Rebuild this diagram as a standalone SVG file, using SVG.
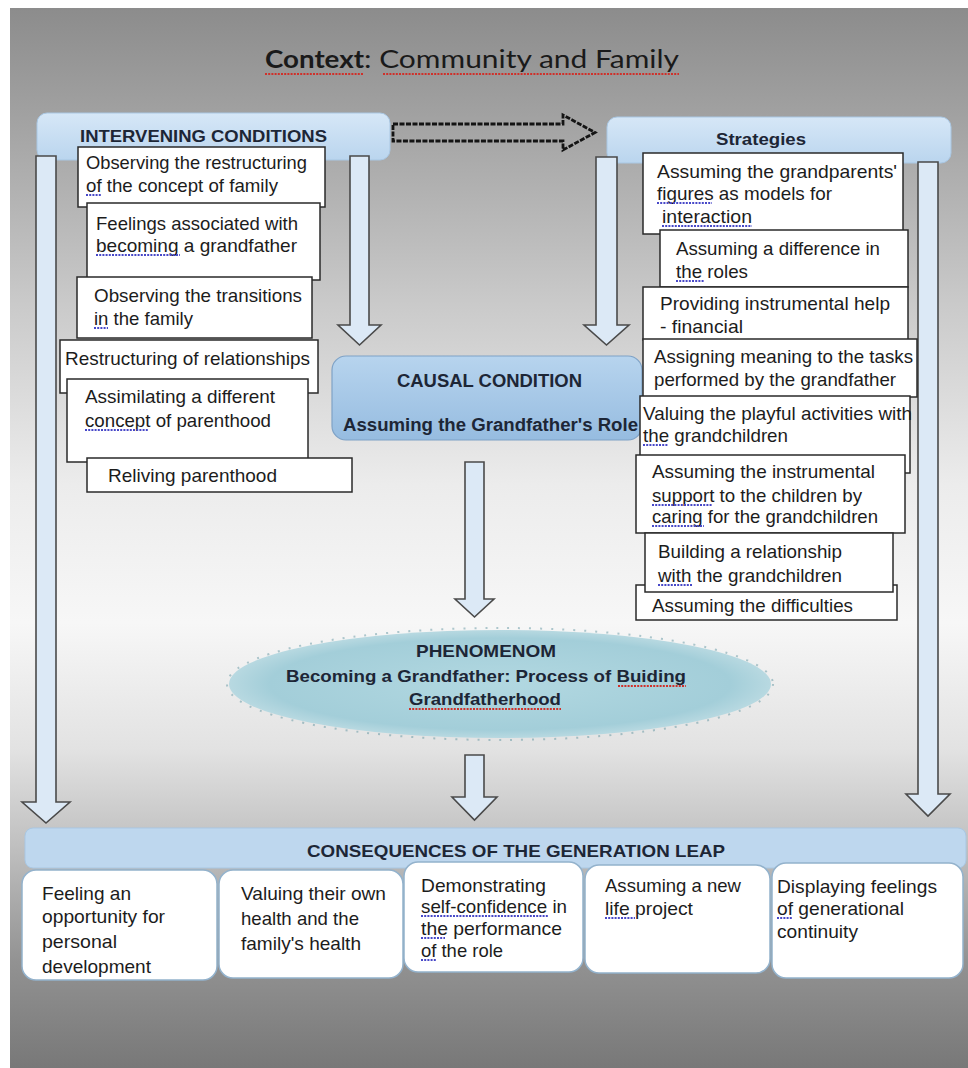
<svg xmlns="http://www.w3.org/2000/svg" width="968" height="1068" viewBox="0 0 968 1068">
<defs>
  <linearGradient id="bg" x1="0" y1="0" x2="0" y2="1">
    <stop offset="0" stop-color="#8c8c8c"/>
    <stop offset="0.1" stop-color="#a1a1a1"/>
    <stop offset="0.28" stop-color="#cacaca"/>
    <stop offset="0.45" stop-color="#ececec"/>
    <stop offset="0.58" stop-color="#f7f7f7"/>
    <stop offset="0.7" stop-color="#e2e2e2"/>
    <stop offset="0.8" stop-color="#bcbcbc"/>
    <stop offset="0.9" stop-color="#929292"/>
    <stop offset="1" stop-color="#787878"/>
  </linearGradient>
  <linearGradient id="hdr" x1="0" y1="0" x2="0" y2="1">
    <stop offset="0" stop-color="#d6e7f7"/>
    <stop offset="1" stop-color="#bad5ee"/>
  </linearGradient>
  <linearGradient id="causal" x1="0" y1="0" x2="0" y2="1">
    <stop offset="0" stop-color="#b7d4ee"/>
    <stop offset="1" stop-color="#96bce0"/>
  </linearGradient>
  <radialGradient id="phen" cx="0.5" cy="0.5" r="0.5">
    <stop offset="0" stop-color="#b2d8e1"/>
    <stop offset="0.85" stop-color="#a3ced9"/>
    <stop offset="1" stop-color="#b8d9e1"/>
  </radialGradient>
  <style>
    .t { font-family: "Liberation Sans", Arial, sans-serif; font-size: 19px; fill: #1c1c1c; }
    .hb { font-family: "Liberation Sans", Arial, sans-serif; font-weight: bold; fill: #1d2636; }
    .box { fill: #ffffff; stroke: #2a2a2a; stroke-width: 1.5; }
    .cbox { fill: #ffffff; stroke: #93b2cc; stroke-width: 1.5; }
    .hdr { fill: url(#hdr); stroke: #a9c7e3; stroke-width: 1; }
    .arr { fill: #dce9f6; stroke: #4a4a4a; stroke-width: 1.6; stroke-linejoin: miter; }
    .darr { fill: none; stroke: #141414; stroke-width: 2.8; stroke-dasharray: 5 1.5; }
    .sqb { stroke: #4848c8; stroke-width: 1.8; stroke-dasharray: 2 1.2; }
    .sqr { stroke: #d0302a; stroke-width: 1.8; stroke-dasharray: 2 1.2; }
  </style>
</defs>

<rect x="0" y="0" width="968" height="1068" fill="#ffffff"/>
<rect x="10" y="8" width="958" height="1060" fill="url(#bg)"/>

<g id="title">
  <text x="265" y="68" style="font-family: Lato, 'Open Sans', sans-serif; font-size: 25px; font-weight: bold; fill: #1a1a1a;" textLength="99" lengthAdjust="spacingAndGlyphs">Context</text>
  <text x="364" y="68" style="font-family: Lato, 'Open Sans', sans-serif; font-size: 25px; fill: #1a1a1a;" textLength="315" lengthAdjust="spacingAndGlyphs">: Community and Family</text>
  <line class="sqr" x1="265" y1="74" x2="364" y2="74"/>
  <line class="sqr" x1="383" y1="74" x2="679" y2="74"/>
</g>

<g id="intervening-header">
  <rect class="hdr" x="37" y="113" width="353" height="47" rx="10"/>
  <text class="hb" x="80" y="142" font-size="16.5" textLength="247" lengthAdjust="spacingAndGlyphs">INTERVENING CONDITIONS</text>
</g>

<g id="strategies-header">
  <rect class="hdr" x="607" y="117" width="344" height="46" rx="10"/>
  <text class="hb" x="716" y="145" font-size="17" textLength="90" lengthAdjust="spacingAndGlyphs">Strategies</text>
</g>

<g id="consequences-header">
  <rect class="hdr" x="25" y="828" width="941" height="40" rx="8" style="fill:#bed7ee"/>
  <text class="hb" x="307" y="857" font-size="16.5" textLength="418" lengthAdjust="spacingAndGlyphs">CONSEQUENCES OF THE GENERATION LEAP</text>
</g>

<g id="connectors">
  <path class="darr" d="M393,124 H563 V115 L595,132.5 L563,150 V141 H393 Z"/>
  <path class="arr" d="M36,156 H56 V802 H70 L46,823 L22,802 H36 Z"/>
  <path class="arr" d="M918,162 H938 V794 H950 L928,816 L906,794 H918 Z"/>
  <path class="arr" d="M350,156 H369 V325 H381 L359.5,345 L338,325 H350 Z"/>
  <path class="arr" d="M596,157 H617 V325 H629 L606.5,345 L584,325 H596 Z"/>
  <path class="arr" d="M465,462 H484 V599 H494 L474.5,617 L455,599 H465 Z"/>
  <path class="arr" d="M465,755 H484 V797 H497 L474.5,820 L452,797 H465 Z"/>
</g>

<g id="causal-condition">
  <rect x="332" y="356" width="310" height="84" rx="14" fill="url(#causal)" stroke="#7fa2c6" stroke-width="1.2"/>
  <text class="hb" x="397" y="387" font-size="18" textLength="185" lengthAdjust="spacingAndGlyphs">CAUSAL CONDITION</text>
  <text class="hb" x="343" y="431" font-size="18" textLength="295" lengthAdjust="spacingAndGlyphs">Assuming the Grandfather's Role</text>
</g>

<g id="phenomenon">
  <ellipse cx="500" cy="684" rx="271" ry="54" fill="url(#phen)"/>
  <ellipse cx="500" cy="684" rx="273" ry="56" fill="none" stroke="#3f7f8e" stroke-width="2" stroke-dasharray="2 9" opacity="0.4"/>
  <text class="hb" x="416" y="657" font-size="17" textLength="140" lengthAdjust="spacingAndGlyphs">PHENOMENOM</text>
  <text class="hb" x="286" y="682" font-size="17" textLength="400" lengthAdjust="spacingAndGlyphs">Becoming a Grandfather: Process of Buiding</text>
  <text class="hb" x="409" y="705" font-size="17" textLength="152" lengthAdjust="spacingAndGlyphs">Grandfatherhood</text>
  <line class="sqr" x1="618" y1="686" x2="686" y2="686"/>
  <line class="sqr" x1="409" y1="709" x2="561" y2="709"/>
</g>

<g id="ic-1">
  <rect class="box" x="78" y="147" width="247" height="60"/>
  <text class="t" x="86" y="169" textLength="221" lengthAdjust="spacingAndGlyphs">Observing the restructuring</text>
  <text class="t" x="86" y="192" textLength="192" lengthAdjust="spacingAndGlyphs">of the concept of family</text>
  <line class="sqb" x1="86" y1="195" x2="102" y2="195"/>
</g>
<g id="ic-2">
  <rect class="box" x="87" y="203" width="233" height="77"/>
  <text class="t" x="96" y="230" textLength="202" lengthAdjust="spacingAndGlyphs">Feelings associated with</text>
  <text class="t" x="96" y="252" textLength="201" lengthAdjust="spacingAndGlyphs">becoming a grandfather</text>
  <line class="sqb" x1="96" y1="255" x2="180" y2="255"/>
</g>
<g id="ic-3">
  <rect class="box" x="77" y="277" width="235" height="61"/>
  <text class="t" x="94" y="302" textLength="208" lengthAdjust="spacingAndGlyphs">Observing the transitions</text>
  <text class="t" x="94" y="325" textLength="99" lengthAdjust="spacingAndGlyphs">in the family</text>
  <line class="sqb" x1="94" y1="328" x2="108" y2="328"/>
</g>
<g id="ic-4">
  <rect class="box" x="60" y="340" width="258" height="53"/>
  <text class="t" x="65" y="365" textLength="245" lengthAdjust="spacingAndGlyphs">Restructuring of relationships</text>
</g>
<g id="ic-5">
  <rect class="box" x="67" y="379" width="241" height="83"/>
  <text class="t" x="85" y="403" textLength="190" lengthAdjust="spacingAndGlyphs">Assimilating a different</text>
  <text class="t" x="85" y="427" textLength="186" lengthAdjust="spacingAndGlyphs">concept of parenthood</text>
  <line class="sqb" x1="85" y1="430" x2="149" y2="430"/>
</g>
<g id="ic-6">
  <rect class="box" x="87" y="458" width="265" height="34"/>
  <text class="t" x="108" y="482" textLength="169" lengthAdjust="spacingAndGlyphs">Reliving parenthood</text>
</g>

<g id="st-1">
  <rect class="box" x="643" y="153" width="260" height="81"/>
  <text class="t" x="657" y="178" textLength="240" lengthAdjust="spacingAndGlyphs">Assuming the grandparents'</text>
  <text class="t" x="657" y="200" textLength="175" lengthAdjust="spacingAndGlyphs">figures as models for</text>
  <text class="t" x="662" y="223" textLength="90" lengthAdjust="spacingAndGlyphs">interaction</text>
  <line class="sqb" x1="657" y1="203" x2="712" y2="203"/>
  <line class="sqb" x1="662" y1="226" x2="752" y2="226"/>
</g>
<g id="st-2">
  <rect class="box" x="660" y="230" width="248" height="57"/>
  <text class="t" x="676" y="255" textLength="204" lengthAdjust="spacingAndGlyphs">Assuming a difference in</text>
  <text class="t" x="676" y="278" textLength="72" lengthAdjust="spacingAndGlyphs">the roles</text>
  <line class="sqb" x1="676" y1="281" x2="704" y2="281"/>
</g>
<g id="st-3">
  <rect class="box" x="643" y="287" width="265" height="53"/>
  <text class="t" x="660" y="310" textLength="230" lengthAdjust="spacingAndGlyphs">Providing instrumental help</text>
  <text class="t" x="660" y="333" textLength="83" lengthAdjust="spacingAndGlyphs">- financial</text>
</g>
<g id="st-4">
  <rect class="box" x="643" y="339" width="274" height="58"/>
  <text class="t" x="654" y="363" textLength="259" lengthAdjust="spacingAndGlyphs">Assigning meaning to the tasks</text>
  <text class="t" x="654" y="386" textLength="242" lengthAdjust="spacingAndGlyphs">performed by the grandfather</text>
</g>
<g id="st-5">
  <rect class="box" x="640" y="396" width="270" height="77"/>
  <text class="t" x="643" y="420" textLength="269" lengthAdjust="spacingAndGlyphs">Valuing the playful activities with</text>
  <text class="t" x="643" y="442" textLength="145" lengthAdjust="spacingAndGlyphs">the grandchildren</text>
  <line class="sqb" x1="643" y1="445" x2="668" y2="445"/>
</g>
<g id="st-6">
  <rect class="box" x="636" y="455" width="269" height="78"/>
  <text class="t" x="652" y="478" textLength="223" lengthAdjust="spacingAndGlyphs">Assuming the instrumental</text>
  <text class="t" x="652" y="502" textLength="210" lengthAdjust="spacingAndGlyphs">support to the children by</text>
  <text class="t" x="652" y="523" textLength="226" lengthAdjust="spacingAndGlyphs">caring for the grandchildren</text>
  <line class="sqb" x1="652" y1="505" x2="712" y2="505"/>
  <line class="sqb" x1="652" y1="526" x2="704" y2="526"/>
</g>
<g id="st-8">
  <rect class="box" x="636" y="585" width="261" height="35"/>
  <text class="t" x="652" y="612" textLength="201" lengthAdjust="spacingAndGlyphs">Assuming the difficulties</text>
</g>
<g id="st-7">
  <rect class="box" x="645" y="533" width="248" height="59"/>
  <text class="t" x="658" y="558" textLength="184" lengthAdjust="spacingAndGlyphs">Building a relationship</text>
  <text class="t" x="658" y="582" textLength="184" lengthAdjust="spacingAndGlyphs">with the grandchildren</text>
  <line class="sqb" x1="658" y1="585" x2="692" y2="585"/>
</g>

<g id="cq-1">
  <rect class="cbox" x="22" y="870" width="195" height="110" rx="14"/>
  <text class="t" x="42" y="900" textLength="89" lengthAdjust="spacingAndGlyphs">Feeling an</text>
  <text class="t" x="42" y="923" textLength="123" lengthAdjust="spacingAndGlyphs">opportunity for</text>
  <text class="t" x="42" y="948" textLength="75" lengthAdjust="spacingAndGlyphs">personal</text>
  <text class="t" x="42" y="973" textLength="109" lengthAdjust="spacingAndGlyphs">development</text>
</g>
<g id="cq-2">
  <rect class="cbox" x="219" y="870" width="184" height="108" rx="14"/>
  <text class="t" x="241" y="900" textLength="145" lengthAdjust="spacingAndGlyphs">Valuing their own</text>
  <text class="t" x="241" y="925" textLength="118" lengthAdjust="spacingAndGlyphs">health and the</text>
  <text class="t" x="241" y="950" textLength="120" lengthAdjust="spacingAndGlyphs">family's health</text>
</g>
<g id="cq-3">
  <rect class="cbox" x="404" y="862" width="179" height="110" rx="14"/>
  <text class="t" x="421" y="892" textLength="125" lengthAdjust="spacingAndGlyphs">Demonstrating</text>
  <text class="t" x="421" y="913" textLength="146" lengthAdjust="spacingAndGlyphs">self-confidence in</text>
  <text class="t" x="421" y="935" textLength="141" lengthAdjust="spacingAndGlyphs">the performance</text>
  <text class="t" x="421" y="957" textLength="82" lengthAdjust="spacingAndGlyphs">of the role</text>
  <line class="sqb" x1="421" y1="916" x2="548" y2="916"/>
  <line class="sqb" x1="421" y1="938" x2="445" y2="938"/>
  <line class="sqb" x1="421" y1="960" x2="437" y2="960"/>
</g>
<g id="cq-4">
  <rect class="cbox" x="585" y="865" width="185" height="108" rx="14"/>
  <text class="t" x="605" y="892" textLength="136" lengthAdjust="spacingAndGlyphs">Assuming a new</text>
  <text class="t" x="605" y="915" textLength="88" lengthAdjust="spacingAndGlyphs">life project</text>
  <line class="sqb" x1="605" y1="918" x2="635" y2="918"/>
</g>
<g id="cq-5">
  <rect class="cbox" x="772" y="863" width="191" height="115" rx="14"/>
  <text class="t" x="777" y="893" textLength="160" lengthAdjust="spacingAndGlyphs">Displaying feelings</text>
  <text class="t" x="777" y="915" textLength="127" lengthAdjust="spacingAndGlyphs">of generational</text>
  <text class="t" x="777" y="938" textLength="81" lengthAdjust="spacingAndGlyphs">continuity</text>
  <line class="sqb" x1="777" y1="918" x2="793" y2="918"/>
</g>
</svg>
